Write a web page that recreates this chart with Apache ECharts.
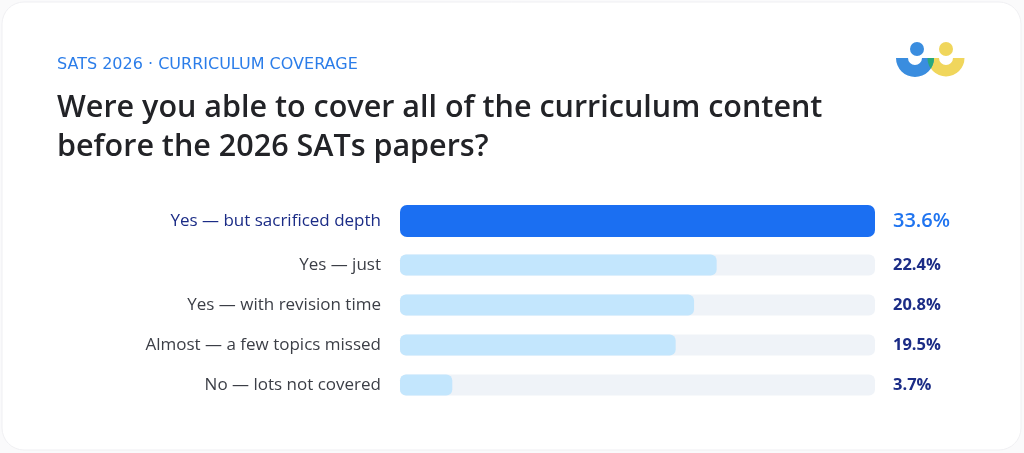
<!DOCTYPE html>
<html>
<head>
<meta charset="utf-8">
<script src="https://cdn.jsdelivr.net/npm/echarts@6/dist/echarts.min.js"></script>
<style>
html, body { margin: 0; padding: 0; background: #fafafb; }
#chart { width: 1024px; height: 453px; }
</style>
</head>
<body>
<div id="chart"></div>
<script>
var categories = [
  'Yes — but sacrificed depth',
  'Yes — just',
  'Yes — with revision time',
  'Almost — a few topics missed',
  'No — lots not covered'
];
var values = [33.6, 22.4, 20.8, 19.5, 3.7];
var kicker = 'SATS 2026 · CURRICULUM COVERAGE';
var heading = 'Were you able to cover all of the curriculum content\nbefore the 2026 SATs papers?';

var FONT = '"Open Sans", "Noto Sans", sans-serif';
var maxV = Math.max.apply(null, values);

// logo lens (overlap of the two half rings)
function lens(c1, r1, c2, r2, cy) {
  var pts = [];
  var n = 16, i, a;
  var d = c2 - c1;
  var xi = (d * d + r1 * r1 - r2 * r2) / (2 * d);
  var yi = Math.sqrt(r1 * r1 - xi * xi);
  var a1 = Math.atan2(yi, xi);
  var a2 = Math.atan2(yi, xi - d);
  for (i = 0; i <= n; i++) { a = a1 * i / n; pts.push([c1 + r1 * Math.cos(a), cy + r1 * Math.sin(a)]); }
  for (i = 0; i <= n; i++) { a = a2 + (Math.PI - a2) * i / n; pts.push([c2 + r2 * Math.cos(a), cy + r2 * Math.sin(a)]); }
  return pts;
}

var chart = echarts.init(document.getElementById('chart'));

var option = {
  animation: false,
  backgroundColor: 'transparent',
  title: [
    {
      text: kicker,
      left: 57, top: 57, padding: 0,
      textStyle: { fontFamily: '"DejaVu Sans", sans-serif', fontSize: 16, fontWeight: 'normal', color: '#2b7de9' }
    },
    {
      text: heading,
      left: 57, top: 89, padding: 0,
      textStyle: { fontFamily: FONT, fontSize: 30.5, fontWeight: 600, color: '#222327', lineHeight: 39 }
    }
  ],
  graphic: [
    {
      type: 'rect', z: -10, silent: true,
      shape: { x: 2, y: 2, width: 1019, height: 448, r: 22 },
      style: { fill: '#ffffff', stroke: '#efeff2', lineWidth: 1 }
    },
    { type: 'sector', shape: { cx: 946, cy: 58, r: 18.5, r0: 7, startAngle: 0, endAngle: Math.PI }, style: { fill: '#f0d65c' } },
    { type: 'sector', shape: { cx: 915, cy: 58, r: 19, r0: 7, startAngle: 0, endAngle: Math.PI }, style: { fill: '#3a8ddf' } },
    { type: 'polygon', shape: { points: lens(915, 19, 946, 18.5, 58) }, style: { fill: '#27a97c' } },
    { type: 'circle', shape: { cx: 917, cy: 49, r: 7 }, style: { fill: '#3a8ddf' } },
    { type: 'circle', shape: { cx: 946, cy: 49, r: 7 }, style: { fill: '#f0d65c' } }
  ],
  grid: [
    { left: 400, right: 149, top: 201, height: 40 },
    { left: 400, right: 149, top: 245, height: 160 }
  ],
  xAxis: [
    { gridIndex: 0, type: 'value', min: 0, max: maxV, show: false },
    { gridIndex: 1, type: 'value', min: 0, max: maxV, show: false }
  ],
  yAxis: [
    {
      gridIndex: 0, type: 'category', inverse: true,
      data: categories.slice(0, 1),
      axisLine: { show: false }, axisTick: { show: false },
      axisLabel: { margin: 19, fontFamily: FONT, fontSize: 17, fontWeight: 500, color: '#1b2c86' }
    },
    {
      gridIndex: 1, type: 'category', inverse: true,
      data: categories.slice(1),
      axisLine: { show: false }, axisTick: { show: false },
      axisLabel: { margin: 19, fontFamily: FONT, fontSize: 17, fontWeight: 500, color: '#3b3e46' }
    }
  ],
  series: [
    {
      type: 'bar', xAxisIndex: 0, yAxisIndex: 0, silent: true,
      data: values.slice(0, 1).map(function () { return maxV; }),
      barWidth: 32,
      itemStyle: { color: '#eff3f8', borderRadius: 7 },
      label: {
        show: true, position: ['100%', '50%'], offset: [18, 0],
        align: 'left', verticalAlign: 'middle',
        formatter: function (p) { return values[p.dataIndex].toFixed(1) + '%'; },
        fontFamily: FONT, fontSize: 20, fontWeight: 600, color: '#1f74f0'
      }
    },
    {
      type: 'bar', xAxisIndex: 0, yAxisIndex: 0, silent: true,
      data: values.slice(0, 1),
      barWidth: 32, barGap: '-100%',
      itemStyle: { color: '#1b6ff2', borderRadius: 7 }
    },
    {
      type: 'bar', xAxisIndex: 1, yAxisIndex: 1, silent: true,
      data: values.slice(1).map(function () { return maxV; }),
      barWidth: 21,
      itemStyle: { color: '#eff3f8', borderRadius: 6 },
      label: {
        show: true, position: ['100%', '50%'], offset: [18, 0],
        align: 'left', verticalAlign: 'middle',
        formatter: function (p) { return values[p.dataIndex + 1].toFixed(1) + '%'; },
        fontFamily: FONT, fontSize: 16.5, fontWeight: 700, color: '#1b2c86'
      }
    },
    {
      type: 'bar', xAxisIndex: 1, yAxisIndex: 1, silent: true,
      data: values.slice(1),
      barWidth: 21, barGap: '-100%',
      itemStyle: { color: '#c3e6fd', borderRadius: 6 }
    }
  ]
};

chart.setOption(option);
</script>
</body>
</html>
